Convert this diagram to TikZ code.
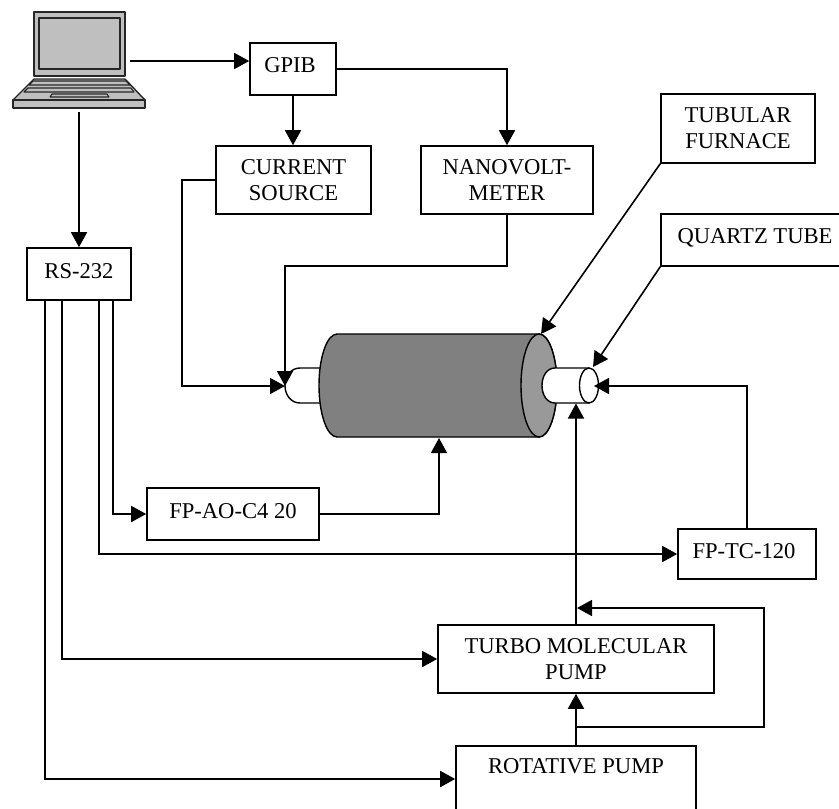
\documentclass[tikz,border=0pt]{standalone}
\usepackage{fontspec}
\setmainfont{Liberation Serif}
\usetikzlibrary{arrows.meta}
\tikzset{
  box/.style={draw=black,line width=1.6pt,fill=white,inner sep=0pt,align=center,font=\fontsize{22.6}{26}\selectfont},
  raised/.style={text height=15pt,text depth=#1},
  conn/.style={draw=black,line width=1.6pt,-{Triangle[length=15pt,width=16pt]}},
  lap/.style={draw=black!85,line width=1.4pt,fill=black!25,line join=round},
  tube/.style={draw=black,line width=1.4pt,fill=white},
  shell/.style={draw=black,line width=1.4pt,fill=black!50},
  shellend/.style={draw=black,line width=1.4pt,fill=black!40},
}
\begin{document}
\begin{tikzpicture}[x=1pt,y=-1pt]
\clip (0,0) rectangle (839,809);
\fill[white] (0,0) rectangle (839,809);
% laptop
\draw[lap] (34,12) rectangle (125,76);
\draw[lap] (39,18) rectangle (120,69);
\draw[lap] (34,79) -- (125,79) -- (145,100) -- (13,100) -- cycle;
\draw[lap] (13,100) rectangle (145,108);
\draw[lap,line width=1.1pt] (33,81) -- (126,81) -- (130,85) -- (29,85) -- cycle;
\draw[lap,line width=1.1pt] (28,88) -- (131,88) -- (134,92) -- (24,92) -- cycle;
\draw[lap,line width=1.1pt] (52,94) -- (107,94) -- (109,97) -- (50,97) -- cycle;
\coordinate (lapR) at (130,61);
\coordinate (lapB) at (79,112);
% furnace
\draw[tube] (330,368) -- (300,368) .. controls (291,368) and (285,376) .. (285,385.5) .. controls (285,395) and (291,403) .. (300,403) -- (330,403);
\draw[shell] (337,334) -- (539,334) arc[start angle=90,end angle=-90,x radius=18,y radius=-51.5] -- (337,437) arc[start angle=-90,end angle=-270,x radius=18,y radius=-51.5] -- cycle;
\draw[shellend] (539,385.5) ellipse[x radius=18,y radius=51.5];
\draw[tube] (589,368) -- (555,368) .. controls (547,368) and (542,376) .. (542,385.5) .. controls (542,395) and (547,403) .. (555,403) -- (589,403) -- cycle;
\draw[tube] (589,385.5) ellipse[x radius=9.5,y radius=17.5];
\coordinate (lTube) at (285,386);
\coordinate (rTube) at (594,386);
\coordinate (tubeB) at (576,403.5);
\coordinate (tubeT) at (593,367);
\coordinate (furnT) at (541,334);
\coordinate (furnB) at (439,438);
\coordinate (nvBend) at (507,266);
\coordinate (csBend) at (182,180);
\coordinate (rpBranch) at (576,727);
\coordinate (loopA) at (764,727);
\coordinate (loopB) at (764,608);
\coordinate (loopEnd) at (577,608);
% boxes
\node[box,raised=8pt,minimum width=86pt,minimum height=52pt] (gpib) at (293,69) {GPIB\hspace*{6pt}};
\node[box,minimum width=155pt,minimum height=68pt] (cs) at (293.5,180) {CURRENT\\SOURCE};
\node[box,minimum width=172pt,minimum height=68pt] (nv) at (507,180) {NANOVOLT-\\METER};
\node[box,minimum width=154pt,minimum height=69pt] (tf) at (738,128.5) {TUBULAR\\FURNACE};
\node[box,raised=9pt,minimum width=188pt,minimum height=52pt] (qt) at (755,240) {QUARTZ TUBE};
\node[box,raised=6pt,minimum width=104pt,minimum height=52pt] (rs) at (79,274) {RS-232};
\node[box,raised=7pt,minimum width=172pt,minimum height=52pt] (ao) at (233,514) {FP-AO-C4 20};
\node[box,raised=7pt,minimum width=138pt,minimum height=50pt] (tc) at (747,554) {FP-TC-120\hspace*{6pt}};
\node[box,minimum width=276pt,minimum height=68pt] (tm) at (576,659) {TURBO MOLECULAR\\PUMP};
\node[box,anchor=north,minimum width=240pt,text height=15pt,text depth=75pt,inner ysep=13pt] (rp) at (576,745) {ROTATIVE PUMP};
% connectors
\draw[conn] (lapR) -- (gpib.west |- lapR);
\draw[conn] (lapB) -- (lapB |- rs.north);
\draw[conn] (gpib.south) -- (cs.north -| gpib.south);
\draw[conn] (gpib.east) -| (nv.north);
\draw[conn] (cs.west) -- (csBend) |- (lTube);
\draw[conn] (nv.south) -- (nvBend) -| (lTube);
\draw[conn] (tf.south west) -- (furnT);
\draw[conn] (qt.south west) -- (tubeT);
\draw[conn] (113,300) |- (ao.west);
\draw[conn] (ao.east) -| (furnB);
\draw[conn] (99,300) |- (tc.west);
\draw[conn] (tc.north) |- (rTube);
\draw[conn] (62,300) |- (tm.west);
\draw[conn] (45,300) |- (rp.west |- 0,779);
\draw[conn] (tm.north) -- (tubeB);
\draw[conn] (rp.north) -- (tm.south);
\draw[conn] (rpBranch) -- (loopA) -- (loopB) -- (loopEnd);
\end{tikzpicture}
\end{document}
